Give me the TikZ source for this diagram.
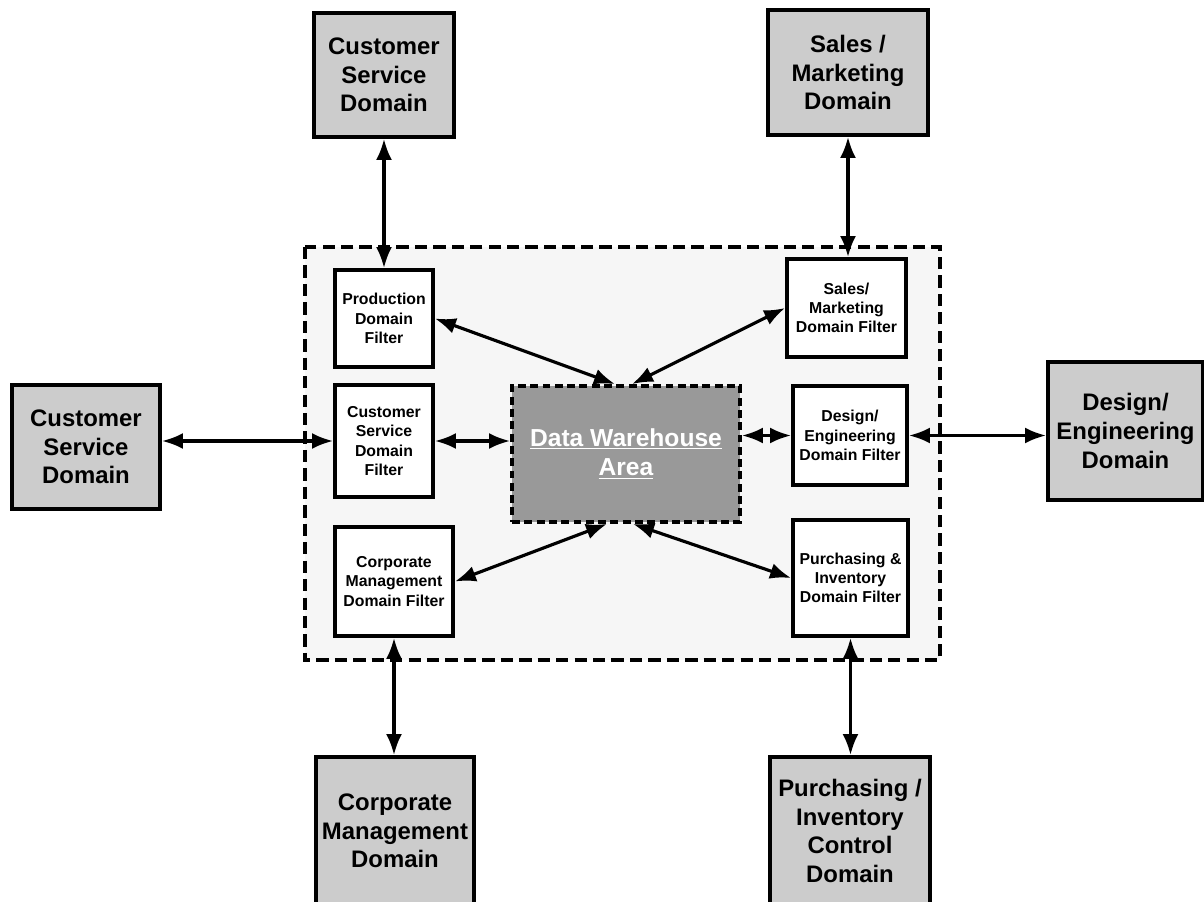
\documentclass[tikz,border=0pt]{standalone}
\usepackage{fontspec}
\setmainfont{Liberation Sans}
\usetikzlibrary{arrows.meta}
\definecolor{domaingray}{HTML}{CCCCCC}
\definecolor{zonegray}{HTML}{F6F6F6}
\definecolor{dwgray}{HTML}{999999}
\tikzset{
  domainbox/.style = {
    draw, line width=2.2pt, fill=domaingray, align=center, inner sep=1pt,
    font=\fontsize{13.6}{16.3}\selectfont\bfseries
  },
  filterbox/.style = {
    draw, line width=2.2pt, fill=white, align=center, inner sep=1pt,
    font=\fontsize{9}{11}\selectfont\bfseries
  },
  dwbox/.style = {
    draw, line width=2.2pt, dash pattern=on 4.5pt off 2.5pt, fill=dwgray,
    text=white, align=center, font=\fontsize{14}{17}\selectfont\bfseries
  },
  zonebox/.style = {draw, line width=2pt, dash pattern=on 7pt off 3.5pt, fill=zonegray},
  link/.style = {line width=1.8pt, {Latex[length=4.2mm,width=3.2mm]}-{Latex[length=4.2mm,width=3.2mm]}}
}

\begin{document}
\begin{tikzpicture}[x=0.02cm,y=-0.02cm]
  \useasboundingbox (0,0) rectangle (1204,902);
  \clip (0,0) rectangle (1204,902);
  \draw[zonebox] (305,247) rectangle (940,660);

  % outer domains
  \node[domainbox, minimum width=2.8cm, minimum height=2.48cm] (csdTop) at (384,75) {Customer\\Service\\Domain};
  \node[domainbox, minimum width=3.2cm, minimum height=2.5cm] (salesDom) at (848,72.5) {Sales /\\Marketing\\Domain};
  \node[domainbox, minimum width=2.96cm, minimum height=2.48cm] (csdLeft) at (86,447) {Customer\\Service\\Domain};
  \node[domainbox, minimum width=3.1cm, minimum height=2.76cm] (designDom) at (1125.5,431) {Design/\\Engineering\\Domain};
  \node[domainbox, minimum width=3.16cm, minimum height=2.96cm] (corpDom) at (395,831) {Corporate\\Management\\Domain};
  \node[domainbox, minimum width=3.2cm, minimum height=2.96cm] (purchDom) at (850,831) {Purchasing /\\Inventory\\Control\\Domain};

  % filters
  \node[filterbox, minimum width=1.96cm, minimum height=1.94cm] (prodF) at (384,318.5) {Production\\Domain\\Filter};
  \node[filterbox, minimum width=1.96cm, minimum height=2.24cm] (csF) at (384,441) {Customer\\Service\\Domain\\Filter};
  \node[filterbox, minimum width=2.36cm, minimum height=2.18cm] (corpF) at (394,581.5) {Corporate\\Management\\Domain Filter};
  \node[filterbox, minimum width=2.38cm, minimum height=1.96cm] (salesF) at (846.5,308) {Sales/\\Marketing\\Domain Filter};
  \node[filterbox, minimum width=2.28cm, minimum height=1.98cm] (designF) at (850,435.5) {Design/\\Engineering\\Domain Filter};
  \node[filterbox, minimum width=2.3cm, minimum height=2.32cm] (purchF) at (850.5,578) {Purchasing \&\\Inventory\\Domain Filter};

  \node[dwbox, minimum width=4.56cm, minimum height=2.72cm] (dw) at (626,454) {\underline{Data Warehouse}\\\underline{Area}};

  % connectors
  \draw[link] (csdTop.south) -- (prodF.north);
  \draw[link] (salesDom.south) -- (salesDom.south |- salesF.north);
  \draw[link] (csdLeft.east |- csF.west) -- (csF.west);
  \draw[link] (csF.east) -- (csF.east -| dw.west);
  \draw[link] (dw.east |- designF.west) -- (designF.west);
  \draw[link] (designF.east) -- (designF.east -| designDom.west);
  \draw[link] (prodF.east) -- ([xshift=-0.22cm]dw.north);
  \draw[link] (salesF.west) -- ([xshift=0.12cm]dw.north);
  \draw[link] (corpF.east) -- ([xshift=-0.38cm]dw.south);
  \draw[link] (purchF.west) -- ([xshift=0.14cm]dw.south);
  \draw[link] (corpF.south) -- (corpF.south |- corpDom.north);
  \draw[link] (purchF.south) -- (purchF.south |- purchDom.north);
\end{tikzpicture}
\end{document}
